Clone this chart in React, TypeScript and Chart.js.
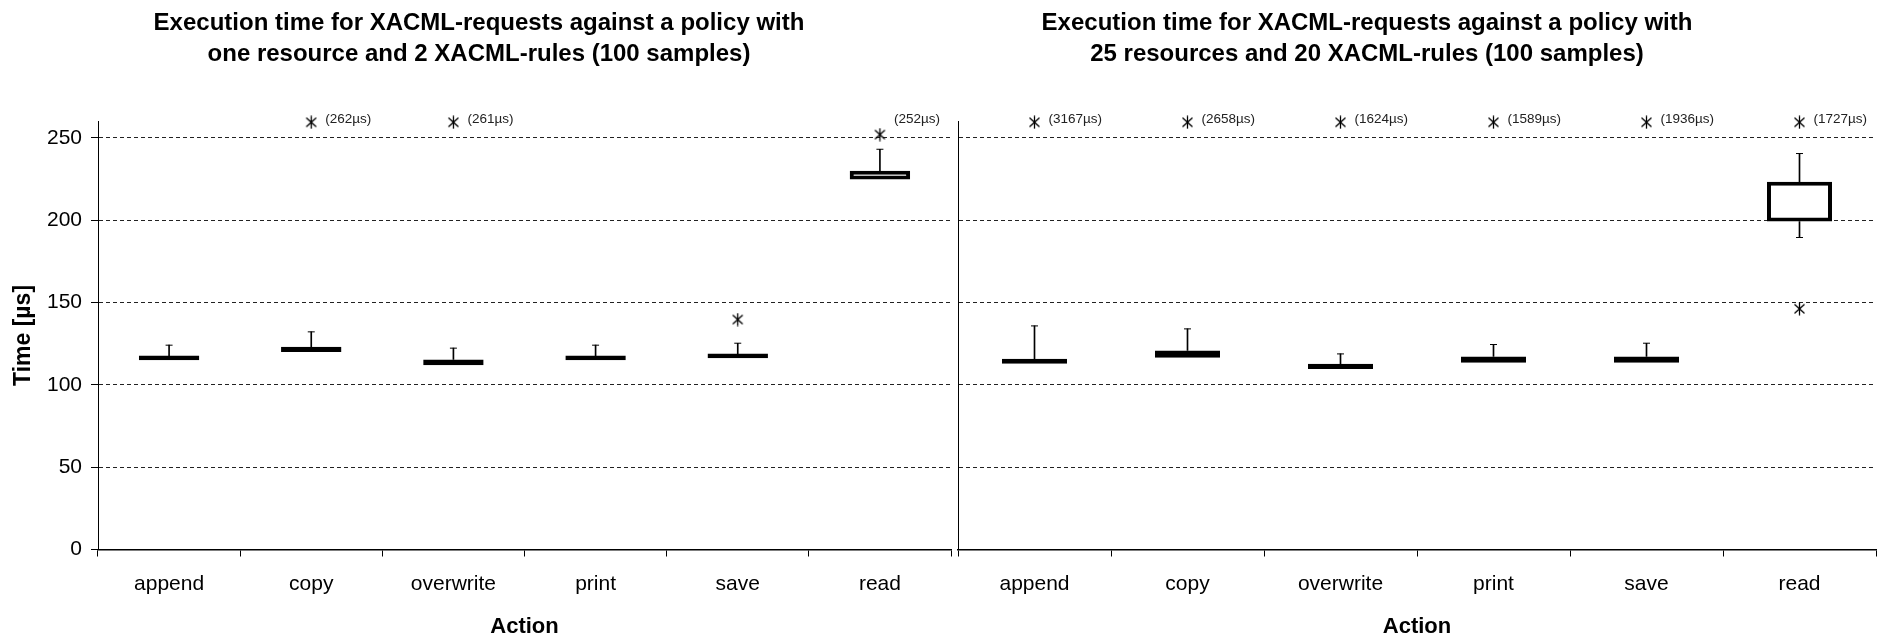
import React, { useEffect, useRef } from 'react';
import { Chart, registerables } from 'chart.js';

Chart.register(...registerables);

// ---------- data ----------
const categories = ['append', 'copy', 'overwrite', 'print', 'save', 'read'];
const yTickValues = [0, 50, 100, 150, 200, 250];
const yMax = 260;

const leftTitle = [
  'Execution time for XACML-requests against a policy with',
  'one resource and 2 XACML-rules (100 samples)',
];
const leftQ1 = [115.0, 120.0, 111.9, 115.0, 116.2, 224.7];
const leftQ3 = [117.8, 123.1, 115.4, 117.8, 119.0, 230.0];
const leftMax = [124.1, 132.2, 122.3, 124.1, 125.3, 243.1];
const leftMin = [115.0, 120.0, 111.9, 115.0, 116.2, 224.7];
const leftOutlierCats = ['copy', 'overwrite', 'save', 'read'];
const leftOutlierVals = [262, 261, 139.7, 252];

const rightTitle = [
  'Execution time for XACML-requests against a policy with',
  '25 resources and 20 XACML-rules (100 samples)',
];
const rightQ1 = [112.8, 116.4, 109.7, 113.4, 113.4, 199.2];
const rightQ3 = [115.8, 120.9, 112.8, 117.2, 117.2, 223.3];
const rightMax = [135.8, 134.0, 118.8, 124.5, 125.3, 240.5];
const rightMin = [112.8, 116.4, 109.7, 113.4, 113.4, 189.5];
const rightOutlierCats = ['append', 'copy', 'overwrite', 'print', 'save', 'read', 'read'];
const rightOutlierVals = [3167, 2658, 1624, 1589, 1936, 1727, 146.2];

// ---------- styling ----------
const FONT = "'Liberation Sans', Arial, Helvetica, sans-serif";
const LABEL_THRESHOLD = 250; // outliers above top gridline get a value label
const CLIP_TOP = 259.5;      // off-scale outliers are drawn at the top
const LABEL_LEVEL = 261.3;

function makeAsterisk(): HTMLCanvasElement {
  const c = document.createElement('canvas');
  c.width = 13;
  c.height = 14;
  const g = c.getContext('2d')!;
  g.strokeStyle = '#000';
  g.lineWidth = 1.3;
  g.beginPath();
  g.moveTo(6.5, 0.5);
  g.lineTo(6.5, 13.5);
  g.moveTo(1.5, 2.5);
  g.lineTo(11.5, 11.5);
  g.moveTo(11.5, 2.5);
  g.lineTo(1.5, 11.5);
  g.stroke();
  return c;
}

function labelPlugin(cats: string[], vals: number[]) {
  return {
    id: 'outlierLabels',
    afterDatasetsDraw(chart: any) {
      const { ctx } = chart;
      const x = chart.scales.x;
      const y = chart.scales.y;
      ctx.save();
      ctx.font = `13.5px ${FONT}`;
      ctx.fillStyle = '#222';
      ctx.textAlign = 'left';
      ctx.textBaseline = 'middle';
      cats.forEach((c, i) => {
        const v = vals[i];
        if (v <= LABEL_THRESHOLD) return;
        const px = x.getPixelForValue(categories.indexOf(c)) + 14;
        const py = y.getPixelForValue(LABEL_LEVEL);
        ctx.fillText(`(${v}µs)`, px, py);
      });
      ctx.restore();
    },
  };
}

function buildConfig(p: {
  title: string[];
  q1: number[];
  q3: number[];
  min: number[];
  max: number[];
  oCats: string[];
  oVals: number[];
  showY: boolean;
  yWidth: number;
  padRight: number;
  star: HTMLCanvasElement;
}): any {
  const barCommon = {
    type: 'bar',
    grouped: false,
    categoryPercentage: 1,
  };
  return {
    type: 'bar',
    data: {
      labels: categories,
      datasets: [
        {
          ...barCommon,
          label: 'box',
          data: categories.map((_, i) => [p.q1[i], p.q3[i]]),
          backgroundColor: '#fff',
          borderColor: '#000',
          borderWidth: 4,
          borderSkipped: false,
          barPercentage: 0.425,
          order: 0,
        },
        {
          ...barCommon,
          label: 'upper whisker',
          data: categories.map((_, i) => [p.q3[i], p.max[i]]),
          backgroundColor: '#000',
          borderWidth: 0,
          barThickness: 1,
          order: 2,
        },
        {
          ...barCommon,
          label: 'lower whisker',
          data: categories.map((_, i) => (p.min[i] < p.q1[i] ? [p.min[i], p.q1[i]] : null)),
          backgroundColor: '#000',
          borderWidth: 0,
          barThickness: 1,
          order: 2,
        },
        {
          type: 'line',
          label: 'max cap',
          data: p.max.map((m, i) => (m > p.q3[i] ? m : null)),
          showLine: false,
          pointStyle: 'line',
          pointRadius: 3.5,
          pointBorderWidth: 1,
          pointBorderColor: '#000',
          borderColor: '#000',
          order: 1,
        },
        {
          type: 'line',
          label: 'min cap',
          data: p.min.map((m, i) => (m < p.q1[i] ? m : null)),
          showLine: false,
          pointStyle: 'line',
          pointRadius: 3.5,
          pointBorderWidth: 1,
          pointBorderColor: '#000',
          borderColor: '#000',
          order: 1,
        },
        {
          type: 'line',
          label: 'outliers',
          data: p.oCats.map((c, i) => ({ x: c, y: Math.min(p.oVals[i], CLIP_TOP) })),
          showLine: false,
          pointStyle: p.star,
          pointRadius: 6,
          clip: false,
          order: -1,
        },
      ],
    },
    options: {
      animation: false,
      responsive: true,
      maintainAspectRatio: false,
      events: [],
      layout: { padding: { left: 0, right: p.padRight, top: 0, bottom: 0 } },
      plugins: {
        legend: { display: false },
        tooltip: { enabled: false },
        title: {
          display: true,
          text: p.title,
          color: '#000',
          font: { family: FONT, size: 24, weight: 'bold', lineHeight: 1.28 },
          padding: { top: 8, bottom: 52 },
        },
      },
      scales: {
        x: {
          type: 'category',
          offset: true,
          grid: {
            offset: true,
            drawOnChartArea: false,
            drawTicks: true,
            tickLength: 7,
            tickColor: '#000',
            tickWidth: 1,
          },
          border: { display: true, color: '#000', width: 1.5 },
          ticks: {
            color: '#000',
            font: { family: FONT, size: 21 },
            padding: 15,
            maxRotation: 0,
            autoSkip: false,
          },
          title: {
            display: true,
            text: 'Action',
            color: '#000',
            font: { family: FONT, size: 22, weight: 'bold' },
            padding: { top: 0, bottom: -3 },
          },
          afterFit: (s: any) => {
            s.height = 87.5;
          },
        },
        y: {
          type: 'linear',
          min: 0,
          max: yMax,
          afterBuildTicks: (s: any) => {
            s.ticks = yTickValues.map((v) => ({ value: v }));
          },
          afterFit: (s: any) => {
            s.width = p.yWidth;
          },
          ticks: {
            display: p.showY,
            color: '#000',
            font: { family: FONT, size: 21 },
            padding: 9,
          },
          grid: {
            color: '#222',
            lineWidth: 1,
            drawTicks: p.showY,
            tickLength: 7,
            tickColor: '#000',
            tickWidth: 1,
          },
          border: { display: true, color: '#000', width: 1, dash: [4, 3] },
          title: {
            display: p.showY,
            text: 'Time [µs]',
            color: '#000',
            font: { family: FONT, size: 23, weight: 'bold' },
            padding: { top: 10, bottom: 0 },
          },
        },
      },
    },
    plugins: [labelPlugin(p.oCats, p.oVals)],
  };
}

export default function App() {
  const leftRef = useRef<HTMLCanvasElement>(null);
  const rightRef = useRef<HTMLCanvasElement>(null);

  useEffect(() => {
    const star = makeAsterisk();
    const left = new Chart(
      leftRef.current!,
      buildConfig({
        title: leftTitle,
        q1: leftQ1,
        q3: leftQ3,
        min: leftMin,
        max: leftMax,
        oCats: leftOutlierCats,
        oVals: leftOutlierVals,
        showY: true,
        yWidth: 98,
        padRight: 0,
        star,
      })
    );
    const right = new Chart(
      rightRef.current!,
      buildConfig({
        title: rightTitle,
        q1: rightQ1,
        q3: rightQ3,
        min: rightMin,
        max: rightMax,
        oCats: rightOutlierCats,
        oVals: rightOutlierVals,
        showY: false,
        yWidth: 100,
        padRight: 7,
        star,
      })
    );
    return () => {
      left.destroy();
      right.destroy();
    };
  }, []);

  return (
    <div
      style={{
        position: 'fixed',
        left: 0,
        top: 0,
        width: 1883,
        height: 637,
        background: '#fff',
        overflow: 'hidden',
      }}
    >
      <div style={{ position: 'absolute', left: 0, top: 0, width: 958, height: 637 }}>
        <canvas ref={leftRef} />
      </div>
      <div style={{ position: 'absolute', left: 858, top: 0, width: 1025, height: 637 }}>
        <canvas ref={rightRef} />
      </div>
    </div>
  );
}
